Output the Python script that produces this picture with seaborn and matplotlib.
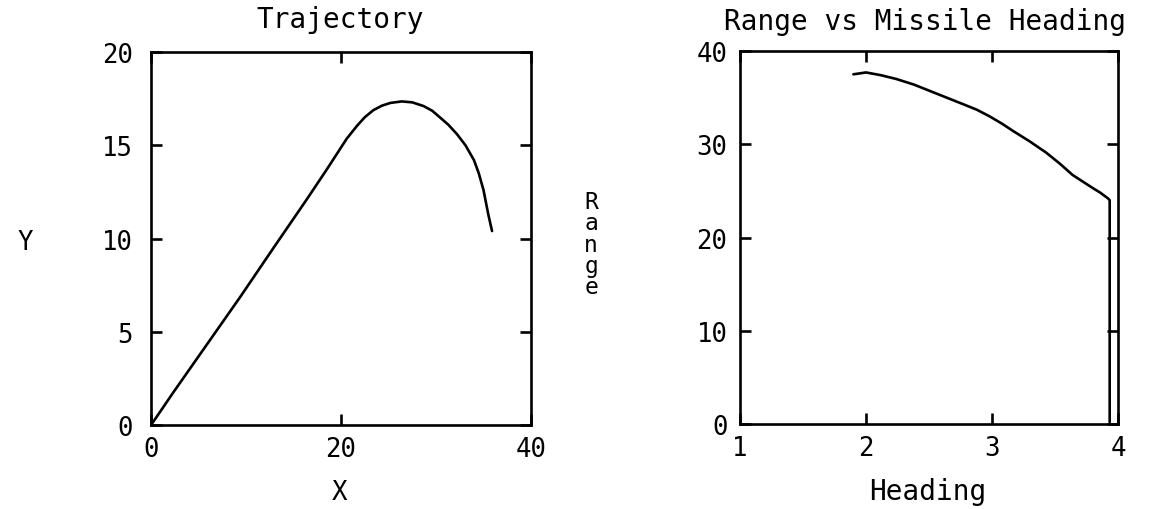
import matplotlib
matplotlib.use("Agg")
import matplotlib.pyplot as plt
import seaborn as sns
import pandas as pd

# Trajectory data
traj_x = [0.0, 0.25, 2.35, 5.86, 9.37, 12.9, 16.4, 18.5, 19.9, 20.6, 21.7, 22.5, 23.4,
          24.3, 25.2, 26.4, 27.5, 28.7, 29.6, 30.4, 31.3, 32.2, 33.1, 34.0, 34.5, 35.0, 35.5, 35.9]
traj_y = [0.0, 0.18, 1.75, 4.3, 6.85, 9.5, 12.1, 13.7, 14.8, 15.35, 16.05, 16.5, 16.88,
          17.12, 17.27, 17.35, 17.3, 17.1, 16.85, 16.5, 16.1, 15.6, 15.0, 14.2, 13.5, 12.6, 11.3, 10.4]

# Range vs missile heading data
head_x = [1.90, 2.00, 2.12, 2.24, 2.38, 2.51, 2.64, 2.77, 2.88, 2.98, 3.08, 3.17, 3.30,
          3.43, 3.54, 3.64, 3.72, 3.80, 3.86, 3.92, 3.934, 3.934]
range_y = [37.5, 37.7, 37.4, 37.0, 36.4, 35.7, 35.0, 34.3, 33.7, 33.0, 32.2, 31.4, 30.3,
           29.1, 27.9, 26.7, 26.0, 25.3, 24.8, 24.2, 24.0, 0.2]

traj_xticks = [0, 20, 40]
traj_yticks = [0, 5, 10, 15, 20]
head_xticks = [1, 2, 3, 4]
head_yticks = [0, 10, 20, 30, 40]

sns.set_theme(style="ticks")
plt.rcParams['font.family'] = ['DejaVu Sans Mono']
plt.rcParams['text.color'] = 'black'

fig = plt.figure(figsize=(11.52, 5.10), dpi=100)
fig.patch.set_facecolor("white")

ax1 = fig.add_axes([151/1152, 1 - 426/510, 380/1152, 373/510])
ax2 = fig.add_axes([740/1152, 1 - 425/510, 378/1152, 373/510])

df1 = pd.DataFrame({"X": traj_x, "Y": traj_y})
df2 = pd.DataFrame({"Heading": head_x, "Range": range_y})

sns.lineplot(data=df1, x="X", y="Y", sort=False, estimator=None, color="black", lw=1.9, ax=ax1)
sns.lineplot(data=df2, x="Heading", y="Range", sort=False, estimator=None, color="black", lw=1.9, ax=ax2)

fs = 18.5
tfs = 20
for ax, xt, yt, xl, yl in [(ax1, traj_xticks, traj_yticks, (0, 40), (0, 20)),
                           (ax2, head_xticks, head_yticks, (1, 4), (0, 40))]:
    ax.set_xlim(*xl)
    ax.set_ylim(*yl)
    ax.set_xticks(xt)
    ax.set_yticks(yt)
    ax.set_xlabel("")
    ax.set_ylabel("")
    for s in ax.spines.values():
        s.set_visible(True)
        s.set_linewidth(1.9)
        s.set_color("black")
    ax.tick_params(direction="in", length=8, width=1.9, top=True, right=True,
                   labelsize=fs, colors="black", labelcolor="black")
    ax.set_facecolor("white")

ax1.tick_params(axis="y", pad=13)
ax1.tick_params(axis="x", pad=8)
ax2.tick_params(axis="y", pad=9)
ax2.tick_params(axis="x", pad=8)

fig.text(340/1152, 1 - 20/510, "Trajectory", ha="center", va="center", fontsize=tfs, color="black")
fig.text(925/1152, 1 - 22/510, "Range vs Missile Heading", ha="center", va="center",
         fontsize=tfs, color="black")
fig.text(340/1152, 1 - 493/510, "X", ha="center", va="center", fontsize=fs, color="black")
fig.text(928/1152, 1 - 492/510, "Heading", ha="center", va="center", fontsize=tfs, color="black")
fig.text(25/1152, 1 - 243/510, "Y", ha="center", va="center", fontsize=fs, color="black")
fig.text(591/1152, 1 - 245/510, "R\na\nn\ng\ne", ha="center", va="center", fontsize=16.5,
         linespacing=0.9, color="black")

fig.savefig("out.png", dpi=100, facecolor="white")
